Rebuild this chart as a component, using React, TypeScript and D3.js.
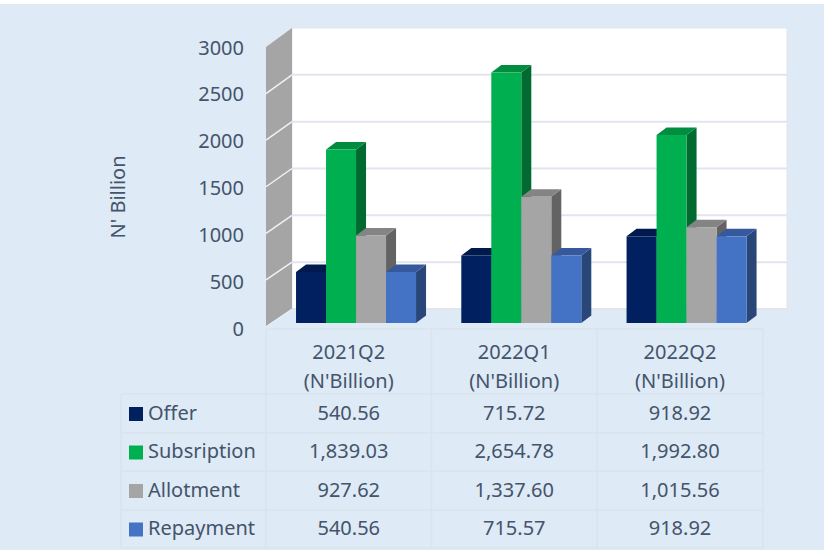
import React from "react";
import * as d3 from "d3";

const categories = ["2021Q2", "2022Q1", "2022Q2"];
const unitLabel = "(N'Billion)";
const seriesNames = ["Offer", "Subsription", "Allotment", "Repayment"];
const offer = [540.56, 715.72, 918.92];
const subscription = [1839.03, 2654.78, 1992.8];
const allotment = [927.62, 1337.6, 1015.56];
const repayment = [540.56, 715.57, 918.92];
const offerText = ["540.56", "715.72", "918.92"];
const subscriptionText = ["1,839.03", "2,654.78", "1,992.80"];
const allotmentText = ["927.62", "1,337.60", "1,015.56"];
const repaymentText = ["540.56", "715.57", "918.92"];
const yTicks = [0, 500, 1000, 1500, 2000, 2500, 3000];

const faceColors = ["#002060", "#00B050", "#A5A5A5", "#4472C4"];
const topColors = ["#001A4D", "#008D40", "#848484", "#36599D"];
const sideColors = ["#001339", "#006A30", "#636363", "#294679"];
const FONT = "'Noto Sans', 'Open Sans', sans-serif";
const TEXT = "#44546A";
const BG = "#DEEAF6";
const GRID = "#E1E5ED";
const BORDER = "#DAE3EE";

const allValues = [offer, subscription, allotment, repayment];
const allText = [offerText, subscriptionText, allotmentText, repaymentText];

export default function App() {
  const yFront = d3.scaleLinear().domain([0, 3000]).range([326.5, 47]);
  const yBack = d3.scaleLinear().domain([0, 3000]).range([309, 28]);
  const yBar = d3.scaleLinear().domain([0, 3000]).range([323, 40]);
  const yLabel = d3.scaleLinear().domain([0, 3000]).range([328, 47]);
  const xGroup = d3.scaleBand<string>().domain(categories).range([273.4, 769.2]);
  const xSeries = d3.scaleBand<string>().domain(seriesNames).range([-60, 60]);
  const dx = 10;
  const dy = 7.5;
  const colEdges = [121, 266, 431.5, 597, 763];
  const rowEdges = [329, 394, 433, 471, 510, 548];
  const wallLeft = 266;
  const wallBack = 292;
  const wallRight = 787;

  return (
    <svg width={824} height={550} style={{ position: "absolute", left: 0, top: 0, background: "#fff" }} fontFamily={FONT}>
      <rect x={0} y={4} width={824} height={546} fill={BG} />
      {/* back wall */}
      <rect x={wallBack} y={yBack(3000)} width={wallRight - wallBack} height={yBack(0) - yBack(3000)} fill="#fff" stroke={GRID} strokeWidth={1} />
      {/* side wall */}
      <polygon
        points={`${wallLeft},${yFront(0)} ${wallBack},${yBack(0)} ${wallBack},${yBack(3000)} ${wallLeft},${yFront(3000)}`}
        fill="#A5A5A5"
      />
      {/* floor */}
      <polygon
        points={`${wallLeft},${yFront(0)} ${wallBack},${yBack(0)} ${wallRight},${yBack(0)} ${wallRight - 25},${yFront(0)}`}
        fill={BG}
      />
      <line x1={wallBack} x2={wallRight} y1={yBack(0)} y2={yBack(0)} stroke={GRID} strokeWidth={2} />
      {yTicks.filter((t) => t > 0 && t < 3000).map((t) => (
        <g key={t}>
          <line x1={wallBack} x2={wallRight} y1={yBack(t)} y2={yBack(t)} stroke={GRID} strokeWidth={2} />
          <line x1={wallLeft} x2={wallBack} y1={yFront(t)} y2={yBack(t)} stroke="#EEF1F5" strokeWidth={1.5} />
        </g>
      ))}
      <line x1={wallLeft} x2={wallBack} y1={yFront(0)} y2={yBack(0)} stroke="#EEF1F5" strokeWidth={1} />
      {/* y tick labels */}
      {yTicks.map((t) => (
        <text key={t} x={244} y={yLabel(t)} textAnchor="end" dominantBaseline="central" fontSize={20} fill={TEXT}>
          {t}
        </text>
      ))}
      <text transform="translate(117,197) rotate(-90)" textAnchor="middle" dominantBaseline="central" fontSize={20} fill={TEXT}>
        N' Billion
      </text>
      {/* bars: drawn series by series, back to front of each group */}
      {categories.map((c, ci) => {
        const cx = xGroup(c)! + xGroup.bandwidth() / 2;
        return (
          <g key={c}>
            {seriesNames.map((s, si) => {
              const x0 = cx + xSeries(s)!;
              const w = xSeries.bandwidth();
              const top = yBar(allValues[si][ci]);
              const base = yBar(0);
              return (
                <g key={s}>
                  <polygon
                    points={`${x0 + w},${top} ${x0 + w + dx},${top - dy} ${x0 + w + dx},${base - dy} ${x0 + w},${base}`}
                    fill={sideColors[si]}
                  />
                  <polygon
                    points={`${x0},${top} ${x0 + dx},${top - dy} ${x0 + w + dx},${top - dy} ${x0 + w},${top}`}
                    fill={topColors[si]}
                  />
                  <rect x={x0} y={top} width={w} height={base - top} fill={faceColors[si]} />
                </g>
              );
            })}
          </g>
        );
      })}
      {/* data table */}
      <g stroke={BORDER} strokeWidth={1.5} fill="none">
        {rowEdges.map((y, i) => (
          <line key={y} x1={i === 0 ? colEdges[1] : colEdges[0]} x2={colEdges[4]} y1={y} y2={y} />
        ))}
        <line x1={colEdges[0]} x2={colEdges[0]} y1={rowEdges[1]} y2={rowEdges[5]} />
        {colEdges.slice(1).map((x) => (
          <line key={x} x1={x} x2={x} y1={rowEdges[0]} y2={rowEdges[5]} />
        ))}
      </g>
      {categories.map((c, ci) => {
        const cx = (colEdges[ci + 1] + colEdges[ci + 2]) / 2;
        return (
          <g key={c} fontSize={20} fill={TEXT} textAnchor="middle" dominantBaseline="central">
            <text x={cx} y={351.5}>{c}</text>
            <text x={cx} y={380.5}>{unitLabel}</text>
          </g>
        );
      })}
      {seriesNames.map((s, si) => {
        const yc = (rowEdges[si + 1] + rowEdges[si + 2]) / 2;
        return (
          <g key={s} fontSize={20} fill={TEXT} dominantBaseline="central">
            <rect x={129} y={yc - 6.5} width={14} height={14} fill={faceColors[si]} />
            <text x={148} y={yc - 1.5}>{s}</text>
            {allText[si].map((v, ci) => (
              <text key={ci} x={(colEdges[ci + 1] + colEdges[ci + 2]) / 2} y={yc - 1.5} textAnchor="middle">
                {v}
              </text>
            ))}
          </g>
        );
      })}
    </svg>
  );
}
